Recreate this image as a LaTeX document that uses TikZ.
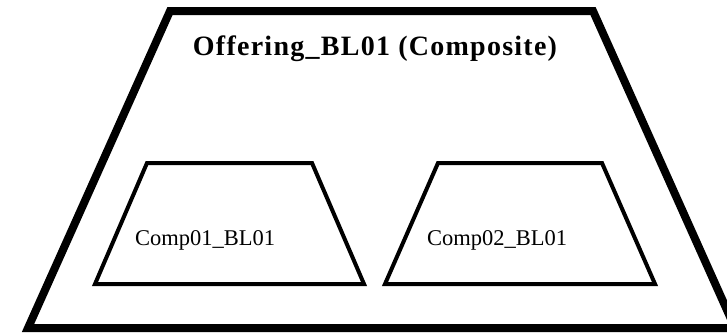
\documentclass[tikz,border=0pt]{standalone}
\usepackage{fontspec}
\setmainfont{Liberation Serif}

\begin{document}
\begin{tikzpicture}[x=1pt, y=-1pt,
    offering/.style = {line width=8pt, line join=miter},
    comp/.style = {line width=4pt, line join=miter},
    heading/.style = {font=\bfseries\fontsize{28}{32}\selectfont\addfontfeature{LetterSpace=4.5}, anchor=base, inner sep=0pt},
    complabel/.style = {font=\fontsize{22.5}{26}\selectfont, anchor=base west, inner sep=0pt}]
      \useasboundingbox (0,0) rectangle (727,332);
      \clip (0,0) rectangle (727,332);

      % outer offering
      \coordinate (OTL) at (170,11);
      \coordinate (OTR) at (593,11);
      \coordinate (OBR) at (735,328);
      \coordinate (OBL) at (28,328);
      \draw[offering] (OTL) -- (OTR) -- (OBR) -- (OBL) -- cycle;
      \node (Offering) [heading] at (375,55) {Offering\_BL01 (Composite)};

      % components
      \coordinate (ATL) at (147,163);
      \coordinate (ATR) at (312,163);
      \coordinate (ABR) at (364,284);
      \coordinate (ABL) at (95,284);
      \coordinate (BTL) at (438,163);
      \coordinate (BTR) at (602,163);
      \coordinate (BBR) at (655,284);
      \coordinate (BBL) at (385,284);
      \draw[comp] (ATL) -- (ATR) -- (ABR) -- (ABL) -- cycle;
      \draw[comp] (BTL) -- (BTR) -- (BBR) -- (BBL) -- cycle;
      \node (Comp01) [complabel] at (135,245) {Comp01\_BL01};
      \node (Comp02) [complabel] at (427,245) {Comp02\_BL01};
\end{tikzpicture}
\end{document}
